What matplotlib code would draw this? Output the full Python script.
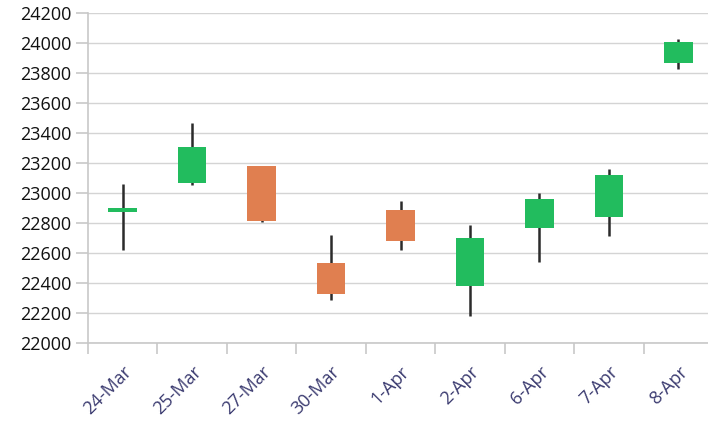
import matplotlib
matplotlib.use("Agg")
import matplotlib.pyplot as plt
import numpy as np

dates = ["24-Mar", "25-Mar", "27-Mar", "30-Mar", "1-Apr", "2-Apr", "6-Apr", "7-Apr", "8-Apr"]
opens = [22880, 23070, 23180, 22535, 22890, 22380, 22770, 22840, 23865]
highs = [23060, 23465, 23180, 22720, 22950, 22785, 23000, 23160, 24030]
lows = [22620, 23055, 22805, 22285, 22620, 22180, 22540, 22715, 23825]
closes = [22895, 23310, 22815, 22325, 22680, 22700, 22960, 23120, 24005]

up_color = "#22BC5E"
down_color = "#E07F50"
wick_color = "#2b2b2b"

fig = plt.figure(figsize=(7.08, 4.25), dpi=100)
ax = fig.add_axes([88/708, 1 - 343/425, (713 - 88)/708, (343 - 13)/425])

x = np.arange(len(dates))
body_w = 0.41
for i in x:
    o, h, l, c = opens[i], highs[i], lows[i], closes[i]
    col = up_color if c >= o else down_color
    ax.vlines(i, l, h, color=wick_color, linewidth=1.8, zorder=2)
    lo = min(o, c)
    hgt = max(abs(c - o), 22)
    ax.bar(i, hgt, bottom=lo - (hgt - abs(c - o)) / 2, width=body_w, color=col, zorder=3, linewidth=0)

ax.set_xlim(-0.5, len(dates) - 0.5)
ax.set_ylim(22000, 24200)
ax.set_yticks(np.arange(22000, 24201, 200))
ax.set_yticklabels([str(v) for v in range(22000, 24201, 200)], fontsize=13, color="#111111", family="Open Sans")
ax.set_xticks(x)
ax.set_xticklabels(dates, rotation=45, ha="right", rotation_mode="anchor", fontsize=13, color="#3b3b70", family="Open Sans")
ax.set_xticks(np.arange(-0.5, len(dates)), minor=True)
ax.tick_params(axis="x", which="major", length=0, pad=14)
ax.tick_params(axis="x", which="minor", length=8, color="#c8c8c8", width=1.2)
ax.tick_params(axis="y", length=9, color="#c8c8c8", width=1.2, pad=3)

ax.grid(axis="y", color="#d4d4d4", linewidth=1.0, zorder=0)
ax.set_axisbelow(True)
for s in ["top", "right"]:
    ax.spines[s].set_visible(False)
ax.spines["left"].set_color("#c8c8c8")
ax.spines["bottom"].set_color("#c8c8c8")
ax.spines["left"].set_linewidth(1.2)
ax.spines["bottom"].set_linewidth(1.2)

fig.savefig("out.png", dpi=100)
